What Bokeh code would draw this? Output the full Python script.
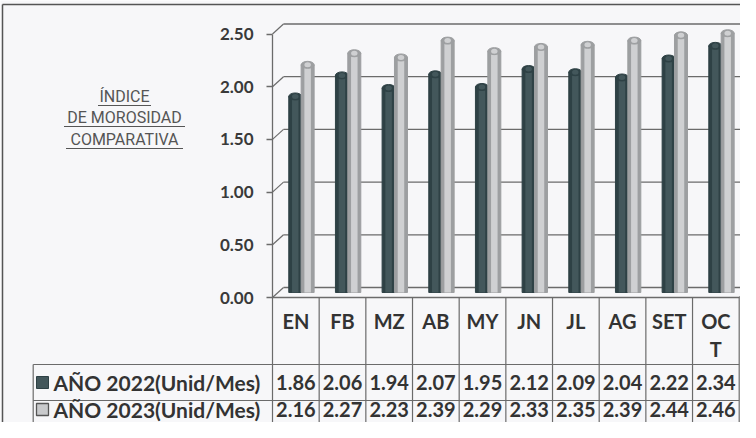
from bokeh.plotting import figure
from bokeh.models import LinearAxis, FixedTicker, NumeralTickFormatter, Range1d
from bokeh.core.properties import value
from bokeh.embed import file_html
from bokeh.resources import INLINE

# ---------------- data ----------------
MONTHS = ["EN", "FB", "MZ", "AB", "MY", "JN", "JL", "AG", "SET", "OC\nT"]
SERIES = ["AÑO 2022(Unid/Mes)", "AÑO 2023(Unid/Mes)"]
Y2022 = [1.86, 2.06, 1.94, 2.07, 1.95, 2.12, 2.09, 2.04, 2.22, 2.34]
Y2023 = [2.16, 2.27, 2.23, 2.39, 2.29, 2.33, 2.35, 2.39, 2.44, 2.46]
Y_TICKS = [0.0, 0.5, 1.0, 1.5, 2.0, 2.5]
TITLE_LINES = ["ÍNDICE", "DE MOROSIDAD", "COMPARATIVA"]

# ---------------- layout / style ----------------
W, H = 740, 422
COL_W = 46.67     # px per category column
UNIT_H = 105.4    # px per 1.00
PAGE_X0 = 280     # page px of left edge of first column
PAGE_Y0 = 305     # page px of value 0 (front)
DX = 11 / COL_W   # depth shift (back wall)
DY = 10 / UNIT_H
BW = 13 / COL_W   # bar width
FONT = value("Lato")
LINE = "#6b6b6b"
BG = "#f7f7f9"


def X(px):
    return (px - PAGE_X0) / COL_W - 0.5


def Y(py):
    return (PAGE_Y0 - py) / UNIT_H


p = figure(width=W, height=H, output_backend="svg", toolbar_location=None,
           x_range=Range1d(X(8), X(8 + W)), y_range=Range1d(Y(8 + H), Y(8)),
           x_axis_type=None, y_axis_type=None, min_border=0)
p.background_fill_color = BG
p.border_fill_color = BG
p.outline_line_color = None

n = len(MONTHS)
left_edge = -0.5
right_edge = n - 0.5

# outer chart border
p.segment(x0=[X(10), X(10)], y0=[Y(12), Y(12)], x1=[X(800), X(10)], y1=[Y(12), Y(500)],
          line_color="#555555", line_width=1.5)

# back wall gridlines and side-wall diagonals
p.segment(x0=[left_edge + DX] * len(Y_TICKS), y0=[t + DY for t in Y_TICKS],
          x1=[right_edge + DX + 1] * len(Y_TICKS), y1=[t + DY for t in Y_TICKS],
          line_color=LINE, line_width=1.3)
p.segment(x0=[left_edge] * len(Y_TICKS), y0=Y_TICKS,
          x1=[left_edge + DX] * len(Y_TICKS), y1=[t + DY for t in Y_TICKS],
          line_color=LINE, line_width=1.2)
# floor front edge and right diagonal
p.segment(x0=[left_edge, right_edge], y0=[0, 0], x1=[right_edge, right_edge + DX], y1=[0, DY],
          line_color=LINE, line_width=1.3)

# y axis on the front-left edge
yax = LinearAxis(fixed_location=left_edge, bounds=(0, 2.5),
                 ticker=FixedTicker(ticks=Y_TICKS),
                 formatter=NumeralTickFormatter(format="0.00"))
yax.axis_line_color = LINE
yax.axis_line_width = 1.3
yax.major_tick_line_color = LINE
yax.major_tick_line_width = 1.3
yax.major_tick_in = 0
yax.major_tick_out = 6
yax.minor_tick_line_color = None
yax.major_label_text_font = "Lato"
yax.major_label_text_font_style = "bold"
yax.major_label_text_font_size = "17px"
yax.major_label_text_color = "#3a3a3a"
yax.major_label_standoff = 13
p.add_layout(yax, "left")

# cylinder bars (placed at mid depth)
styles = [
    dict(edge="#2e4145", mid="#43575b", off=-0.13),
    dict(edge="#9d9fa1", mid="#cfd0d2", off=0.135),
]
for vals, st in zip([Y2022, Y2023], styles):
    xs = [i + st["off"] + DX / 2 for i in range(n)]
    tops = [v + DY / 2 for v in vals]
    p.vbar(x=xs, width=BW, top=tops, bottom=DY / 2, fill_color=st["edge"], line_color=st["edge"])
    p.vbar(x=xs, width=BW * 0.5, top=tops, bottom=DY / 2, fill_color=st["mid"], line_color=None)
    p.ellipse(x=xs, y=tops, width=BW, height=7, height_units="screen",
              fill_color=st["edge"], line_color=st["edge"])
    p.ellipse(x=xs, y=tops, width=BW * 0.5, height=5, height_units="screen",
              fill_color=st["mid"], line_color=None)

# ---------------- data table ----------------
row1_top, row2_top, row3_top = Y(372), Y(408), Y(444)
legend_left = X(40.7)
bottom = Y(470)
p.segment(x0=[i - 0.5 for i in range(n + 1)], y0=[0] * (n + 1),
          x1=[i - 0.5 for i in range(n + 1)], y1=[bottom] * (n + 1),
          line_color=LINE, line_width=1.2)
p.segment(x0=[legend_left] * 3, y0=[row1_top, row2_top, row3_top],
          x1=[right_edge] * 3, y1=[row1_top, row2_top, row3_top],
          line_color=LINE, line_width=1.2)
p.segment(x0=[legend_left], y0=[row1_top], x1=[legend_left], y1=[bottom],
          line_color=LINE, line_width=1.2)

# category header
p.text(x=list(range(n)), y=[Y(316)] * n, text=MONTHS, text_align="center",
       text_baseline="top", text_font=FONT, text_font_style="bold",
       text_font_size="20px", text_color="#333333", text_line_height=1.2)

# values
row_centers = [Y(390), Y(417)]
for vals, yc in zip([Y2022, Y2023], row_centers):
    p.text(x=list(range(n)), y=[yc] * n, text=[f"{v:.2f}" for v in vals],
           text_align="center", text_baseline="middle", text_font=FONT,
           text_font_style="bold", text_font_size="20px", text_color="#333333")

# legend keys + series names
p.scatter(x=[X(50)], y=[row_centers[0]], marker="square", size=12,
          fill_color=styles[0]["mid"], line_color=styles[0]["edge"])
p.scatter(x=[X(50)], y=[row_centers[1]], marker="square", size=12,
          fill_color="#c9cacc", line_color="#555555", line_width=1.3)
p.text(x=[X(61)] * 2, y=row_centers, text=SERIES, text_align="left",
       text_baseline="middle", text_font=FONT, text_font_style="bold",
       text_font_size="21px", text_color="#333333")

# title at left
title_y = [Y(104), Y(125), Y(147)]
title_cx = X(132)
p.text(x=[title_cx] * 3, y=title_y, text=TITLE_LINES, text_align="center",
       text_baseline="middle", text_font=value("Roboto"), text_font_size="16px",
       text_color="#555555")
half_w = [26.5, 60.5, 58.5]
p.segment(x0=[title_cx - h / COL_W for h in half_w], y0=[y - 9 / UNIT_H for y in title_y],
          x1=[title_cx + h / COL_W for h in half_w], y1=[y - 9 / UNIT_H for y in title_y],
          line_color="#555555", line_width=1.2)

open("out.html", "w").write(file_html(p, INLINE))
